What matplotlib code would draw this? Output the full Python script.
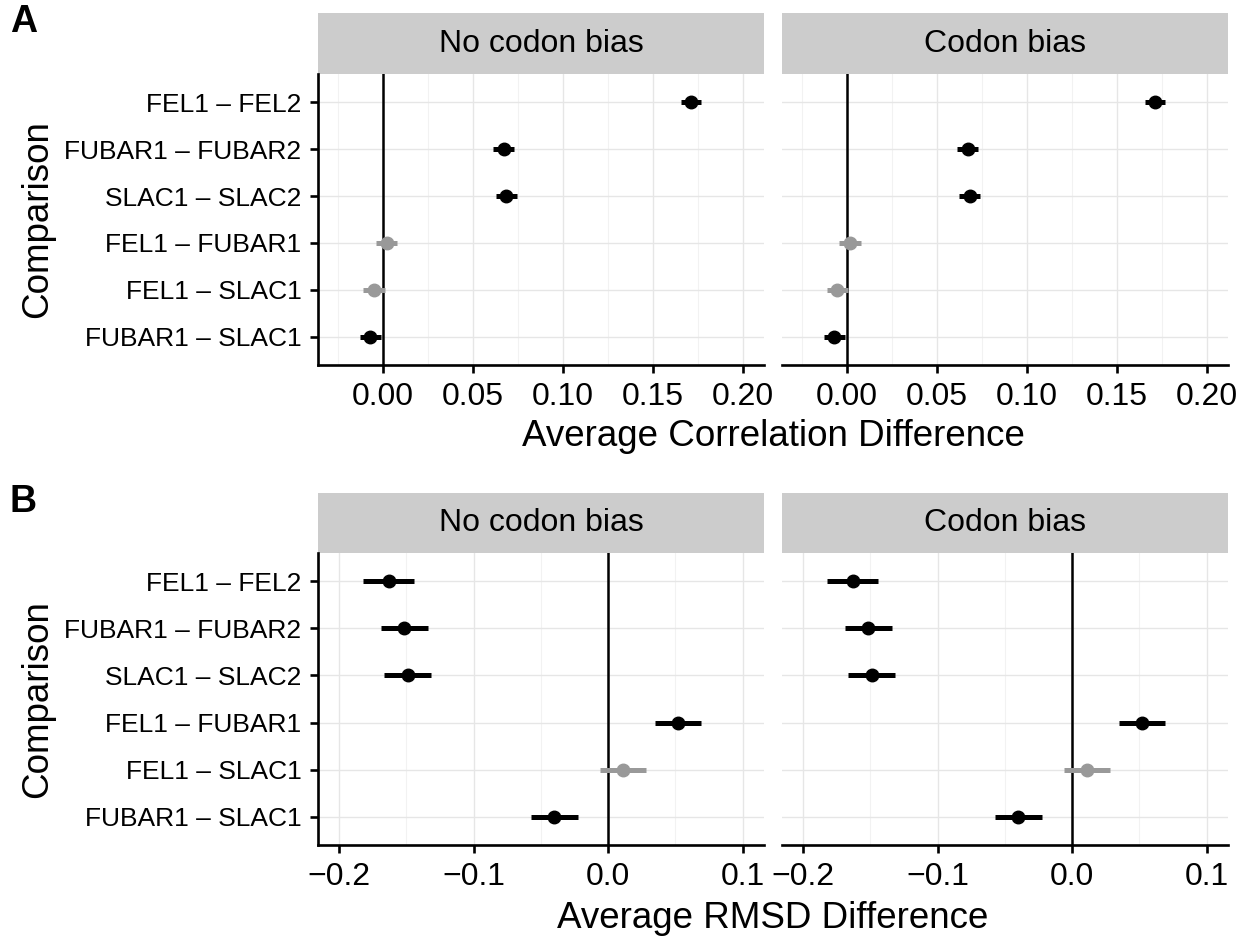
import numpy as np
import matplotlib
matplotlib.use("Agg")
import matplotlib.pyplot as plt

plt.rcParams['font.family'] = ['Liberation Sans', 'DejaVu Sans']

# comparisons, top to bottom
comparisons = ['FEL1 – FEL2', 'FUBAR1 – FUBAR2', 'SLAC1 – SLAC2',
               'FEL1 – FUBAR1', 'FEL1 – SLAC1', 'FUBAR1 – SLAC1']
facets = ['No codon bias', 'Codon bias']

# panel A: average correlation difference
corr_nobias = [0.171, 0.067, 0.0685, 0.002, -0.005, -0.007]
corr_nobias_err = [0.0057, 0.0057, 0.0057, 0.006, 0.006, 0.006]
corr_bias = [0.171, 0.067, 0.068, 0.0017, -0.0053, -0.007]
corr_bias_err = [0.0057, 0.0057, 0.0057, 0.006, 0.006, 0.006]
corr_signif = [True, True, True, False, False, True]

# panel B: average RMSD difference
rmsd_nobias = [-0.163, -0.1515, -0.149, 0.052, 0.011, -0.040]
rmsd_nobias_err = [0.019, 0.0174, 0.0174, 0.0173, 0.0174, 0.0173]
rmsd_bias = [-0.163, -0.1515, -0.149, 0.052, 0.011, -0.040]
rmsd_bias_err = [0.019, 0.0174, 0.0174, 0.0173, 0.0174, 0.0173]
rmsd_signif = [True, True, True, True, False, True]

corr_ticks = [0.0, 0.05, 0.10, 0.15, 0.20]
corr_ticklabels = ['0.00', '0.05', '0.10', '0.15', '0.20']
corr_minor = [-0.025, 0.025, 0.075, 0.125, 0.175]
rmsd_ticks = [-0.2, -0.1, 0.0, 0.1]
rmsd_ticklabels = ['\u22120.2', '\u22120.1', '0.0', '0.1']
rmsd_minor = [-0.15, -0.05, 0.05]

W, H = 1247, 936
fig = plt.figure(figsize=(W / 100, H / 100), dpi=100)


def rect(x0, y0, x1, y1):
    return [x0 / W, 1 - y1 / H, (x1 - x0) / W, (y1 - y0) / H]


def draw_panel(ax, vals, errs, signif, xlim, ticks, ticklabels, minor, show_y):
    ypos = np.arange(len(comparisons))
    ax.set_xlim(*xlim)
    ax.set_ylim(len(comparisons) - 0.4, -0.6)
    ax.set_xticks(ticks)
    ax.set_xticklabels(ticklabels, fontsize=23)
    ax.set_xticks(minor, minor=True)
    ax.set_yticks(ypos)
    ax.grid(True, which='major', color='#E6E6E6', lw=1.0, zorder=0)
    ax.grid(True, which='minor', axis='x', color='#F2F2F2', lw=0.8, zorder=0)
    ax.set_axisbelow(True)
    ax.axvline(0, color='black', lw=1.8, zorder=2)
    for y, v, e, s in zip(ypos, vals, errs, signif):
        c = 'black' if s else '#999999'
        ax.hlines(y, v - e, v + e, color=c, lw=3.6, zorder=3)
        ax.plot([v], [y], 'o', color=c, ms=9, mec=c, zorder=4)
    for sp in ['top', 'right']:
        ax.spines[sp].set_visible(False)
    ax.spines['bottom'].set_linewidth(1.9)
    ax.tick_params(axis='x', which='major', length=6, width=1.9, pad=6)
    ax.tick_params(axis='x', which='minor', length=0)
    if show_y:
        ax.set_yticklabels(comparisons, fontsize=19)
        ax.spines['left'].set_linewidth(1.9)
        ax.tick_params(axis='y', length=6, width=1.9, pad=6)
    else:
        ax.spines['left'].set_visible(False)
        ax.set_yticklabels([])
        ax.tick_params(axis='y', length=0)


def draw_strip(x0, y0, x1, y1, label):
    sax = fig.add_axes(rect(x0, y0, x1, y1))
    sax.set_facecolor('#CCCCCC')
    for sp in sax.spines.values():
        sp.set_visible(False)
    sax.set_xticks([])
    sax.set_yticks([])
    sax.text(0.5, 0.5, label, ha='center', va='center', fontsize=23,
             transform=sax.transAxes)


cols = [(318, 764), (782, 1228)]

rows = [
    dict(strip=(13, 74), panel=(74, 365), data=[(corr_nobias, corr_nobias_err), (corr_bias, corr_bias_err)],
         signif=corr_signif, xlim=(-0.0361, 0.2115), ticks=corr_ticks, labels=corr_ticklabels,
         minor=corr_minor, title='Average Correlation Difference', title_y=437, tag='A', tag_y=22),
    dict(strip=(493, 553), panel=(553, 845), data=[(rmsd_nobias, rmsd_nobias_err), (rmsd_bias, rmsd_bias_err)],
         signif=rmsd_signif, xlim=(-0.2156, 0.1158), ticks=rmsd_ticks, labels=rmsd_ticklabels,
         minor=rmsd_minor, title='Average RMSD Difference', title_y=918, tag='B', tag_y=502),
]

for row in rows:
    for j, (x0, x1) in enumerate(cols):
        draw_strip(x0, row['strip'][0], x1, row['strip'][1], facets[j])
        ax = fig.add_axes(rect(x0, row['panel'][0], x1, row['panel'][1]))
        vals, errs = row['data'][j]
        draw_panel(ax, vals, errs, row['signif'], row['xlim'], row['ticks'],
                   row['labels'], row['minor'], show_y=(j == 0))
    fig.text(773 / W, 1 - row['title_y'] / H, row['title'], ha='center', va='center', fontsize=26.5)
    ymid = (row['panel'][0] + row['panel'][1]) / 2
    fig.text(38 / W, 1 - ymid / H, 'Comparison', rotation=90, ha='center', va='center', fontsize=26.5)
    fig.text(10 / W, 1 - row['tag_y'] / H, row['tag'], ha='left', va='center',
             fontsize=27, fontweight='bold')

fig.savefig('out.png', dpi=100)
